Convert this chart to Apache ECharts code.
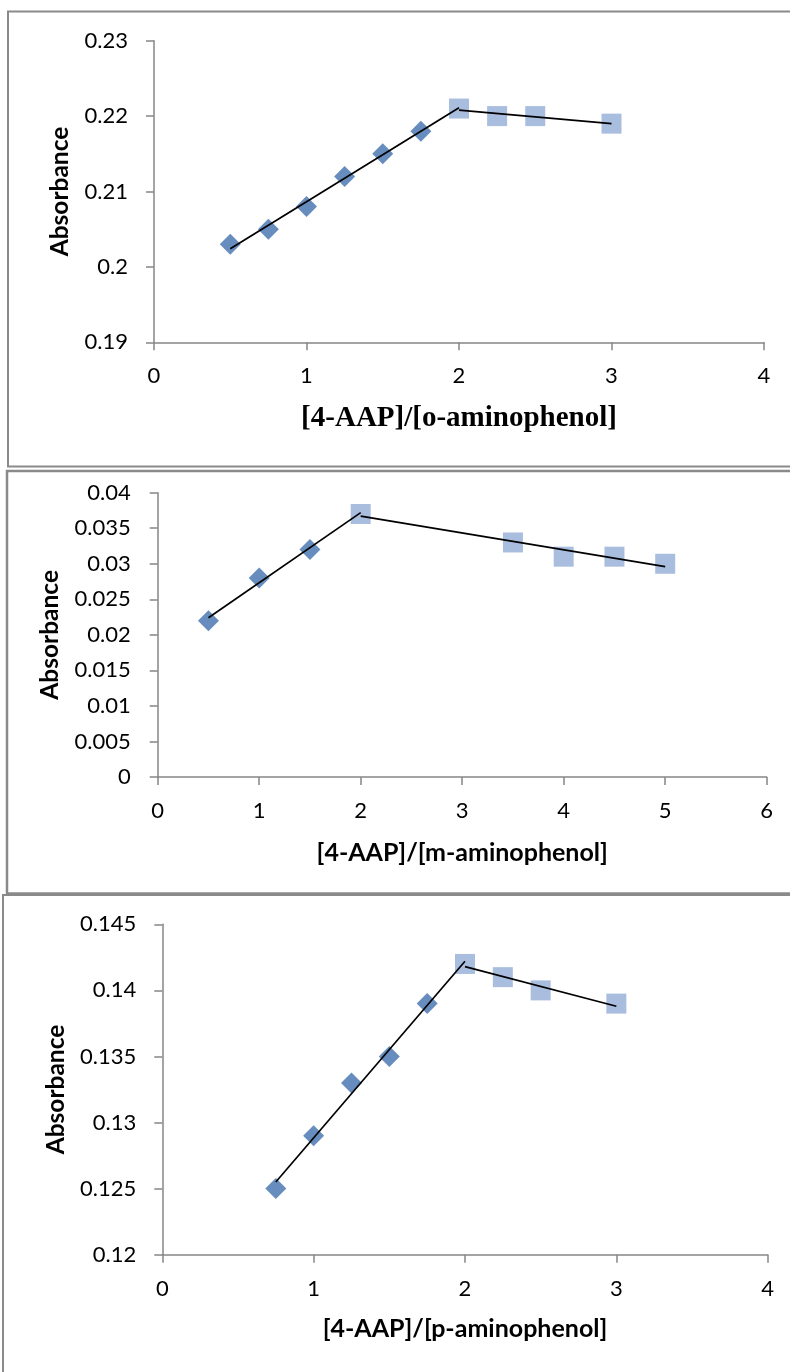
<!DOCTYPE html>
<html>
<head>
<meta charset="utf-8">
<script src="https://cdn.jsdelivr.net/npm/echarts@6/dist/echarts.min.js"></script>
<style>
html,body{margin:0;padding:0;background:#fff;}
#c{width:790px;height:1372px;}
</style>
</head>
<body>
<div id="c"></div>
<script>
// ---- Panel 1: o-aminophenol ----
var oDiamondX = [0.5, 0.75, 1, 1.25, 1.5, 1.75];
var oDiamondY = [0.203, 0.205, 0.208, 0.212, 0.215, 0.218];
var oSquareX = [2, 2.25, 2.5, 3];
var oSquareY = [0.221, 0.220, 0.220, 0.219];
var oTrend1X = [0.5, 2];
var oTrend1Y = [0.2024, 0.2211];
var oTrend2X = [2, 3];
var oTrend2Y = [0.2208, 0.2190];

// ---- Panel 2: m-aminophenol ----
var mDiamondX = [0.5, 1, 1.5];
var mDiamondY = [0.022, 0.028, 0.032];
var mSquareX = [2, 3.5, 4, 4.5, 5];
var mSquareY = [0.037, 0.033, 0.031, 0.031, 0.030];
var mTrend1X = [0.5, 2];
var mTrend1Y = [0.0224, 0.0372];
var mTrend2X = [2, 5];
var mTrend2Y = [0.0367, 0.0296];

// ---- Panel 3: p-aminophenol ----
var pDiamondX = [0.75, 1, 1.25, 1.5, 1.75];
var pDiamondY = [0.125, 0.129, 0.133, 0.135, 0.139];
var pSquareX = [2, 2.25, 2.5, 3];
var pSquareY = [0.142, 0.141, 0.140, 0.139];
var pTrend1X = [0.75, 2];
var pTrend1Y = [0.1255, 0.1422];
var pTrend2X = [2, 3];
var pTrend2Y = [0.1418, 0.1388];

// axis ranges / titles
var xTitles = ['[4-AAP]/[o-aminophenol]', '[4-AAP]/[m-aminophenol]', '[4-AAP]/[p-aminophenol]'];
var yTitle = 'Absorbance';
var xMax = [4, 6, 4];
var yMin = [0.19, 0, 0.12];
var yMax = [0.23, 0.04, 0.145];
var yStep = [0.01, 0.005, 0.005];

function pts(xs, ys) { return xs.map(function (x, i) { return [x, ys[i]]; }); }

var axisGray = '#868686';
var diamondColor = '#4170AE';
var squareColor = '#93ACD7';
var tickFont = 'Lato, "Open Sans", sans-serif';

var grids = [
  { left: 154, top: 40.7, width: 610, height: 301.6 },
  { left: 157.7, top: 492.7, width: 609, height: 284.3 },
  { left: 162.3, top: 924.3, width: 605.4, height: 330.4 }
];
var xNameGap = [62, 63, 62];
var yNameGap = [81, 95, 94];
var yLabelMargin = [26, 27, 26];
var xLabelMargin = [23, 23, 23];

var xAxes = [], yAxes = [];
for (var i = 0; i < 3; i++) {
  xAxes.push({
    type: 'value', gridIndex: i, min: 0, max: xMax[i], interval: 1,
    name: xTitles[i], nameLocation: 'middle', nameGap: xNameGap[i],
    nameTextStyle: i === 0
      ? { fontFamily: '"Liberation Serif", "Times New Roman", serif', fontWeight: 'bold', fontSize: 29, color: '#000' }
      : { fontFamily: tickFont, fontWeight: 'bold', fontSize: 25, color: '#000' },
    axisLine: { show: true, onZero: false, lineStyle: { color: axisGray, width: 1.5 } },
    axisTick: { show: true, length: 8, lineStyle: { color: axisGray, width: 1.5 } },
    axisLabel: { fontFamily: tickFont, fontSize: 22, color: '#000', margin: xLabelMargin[i] },
    splitLine: { show: false }
  });
  yAxes.push({
    type: 'value', gridIndex: i, min: yMin[i], max: yMax[i], interval: yStep[i],
    name: yTitle, nameLocation: 'middle', nameGap: yNameGap[i], nameRotate: 90,
    nameTextStyle: { fontFamily: tickFont, fontWeight: 'bold', fontSize: 24.5, color: '#000' },
    axisLine: { show: true, onZero: false, lineStyle: { color: axisGray, width: 1.5 } },
    axisTick: { show: true, length: 8, lineStyle: { color: axisGray, width: 1.5 } },
    axisLabel: { fontFamily: tickFont, fontSize: 22, color: '#000', margin: yLabelMargin[i] },
    splitLine: { show: false }
  });
}

var panels = [
  [oDiamondX, oDiamondY, oSquareX, oSquareY, oTrend1X, oTrend1Y, oTrend2X, oTrend2Y],
  [mDiamondX, mDiamondY, mSquareX, mSquareY, mTrend1X, mTrend1Y, mTrend2X, mTrend2Y],
  [pDiamondX, pDiamondY, pSquareX, pSquareY, pTrend1X, pTrend1Y, pTrend2X, pTrend2Y]
];
var series = [];
panels.forEach(function (p, i) {
  series.push({ type: 'scatter', xAxisIndex: i, yAxisIndex: i, data: pts(p[0], p[1]),
    symbol: 'diamond', symbolSize: 21, itemStyle: { color: diamondColor }, z: 2 });
  series.push({ type: 'scatter', xAxisIndex: i, yAxisIndex: i, data: pts(p[2], p[3]),
    symbol: 'rect', symbolSize: 20, itemStyle: { color: squareColor }, z: 2 });
  series.push({ type: 'line', xAxisIndex: i, yAxisIndex: i, data: pts(p[4], p[5]),
    symbol: 'none', lineStyle: { color: '#000', width: 1.7 }, z: 3 });
  series.push({ type: 'line', xAxisIndex: i, yAxisIndex: i, data: pts(p[6], p[7]),
    symbol: 'none', lineStyle: { color: '#000', width: 1.7 }, z: 3 });
});

var chart = echarts.init(document.getElementById('c'), null, { renderer: 'canvas' });
chart.setOption({
  animation: false,
  backgroundColor: '#fff',
  grid: grids,
  xAxis: xAxes,
  yAxis: yAxes,
  series: series,
  graphic: [
    { type: 'rect', shape: { x: 8, y: 11.5, width: 800, height: 455 }, style: { fill: 'none', stroke: '#8a8a8a', lineWidth: 2 }, silent: true, z: -1 },
    { type: 'rect', shape: { x: 7, y: 471, width: 800, height: 422.5 }, style: { fill: 'none', stroke: '#8a8a8a', lineWidth: 2.5 }, silent: true, z: -1 },
    { type: 'rect', shape: { x: 3, y: 895, width: 800, height: 600 }, style: { fill: 'none', stroke: '#8a8a8a', lineWidth: 2 }, silent: true, z: -1 }
  ]
});
</script>
</body>
</html>
